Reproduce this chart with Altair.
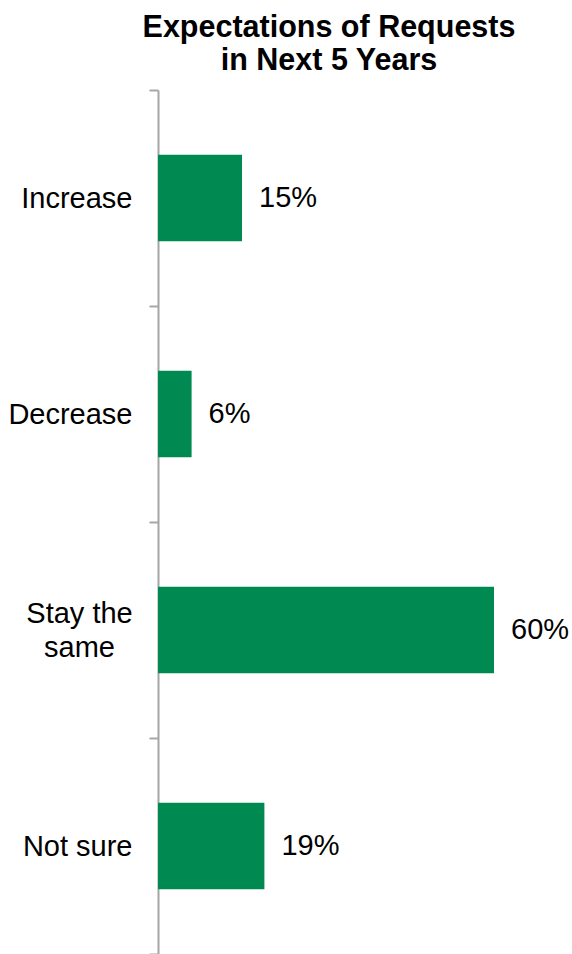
import altair as alt
import pandas as pd

categories = ["Increase", "Decrease", "Stay the same", "Not sure"]
values = [15, 6, 60, 19]
value_labels = ["15%", "6%", "60%", "19%"]

df = pd.DataFrame({"cat": categories, "val": values, "lab": value_labels})

FONT = "Liberation Sans"
GREEN = "#008A52"
MULTI = "datum.value == 'Stay the same'"

y_enc = alt.Y(
    "cat:N",
    sort=categories,
    scale=alt.Scale(paddingInner=0, paddingOuter=0),
    axis=alt.Axis(
        title=None,
        domain=True,
        domainColor="#a6a6a6",
        domainWidth=2,
        ticks=True,
        tickColor="#a6a6a6",
        tickWidth=2,
        tickSize=9,
        tickBand="extent",
        labelFont=FONT,
        labelFontSize=29,
        labelColor="#000000",
        labelPadding={"condition": {"test": MULTI, "value": 70}, "value": 17},
        labelAlign={"condition": {"test": MULTI, "value": "center"}, "value": "right"},
        labelLineHeight=34,
        labelLimit=300,
        labelOffset={"condition": {"test": MULTI, "value": -17}, "value": 0},
        labelExpr="datum.value == 'Stay the same' ? ['Stay the', 'same'] : datum.value",
        grid=False,
    ),
)

x_enc = alt.X(
    "val:Q",
    scale=alt.Scale(domain=[0, 70], nice=False),
    axis=None,
)

bars = alt.Chart(df).mark_bar(
    color=GREEN, height=alt.RelativeBandSize(0.4)
).encode(x=x_enc, y=y_enc)

texts = alt.Chart(df).mark_text(
    align="left", baseline="middle", dx=17, font=FONT, fontSize=29, color="#000000"
).encode(x=x_enc, y=alt.Y("cat:N", sort=categories), text="lab:N")

chart = (
    alt.layer(bars, texts)
    .properties(
        width=392,
        height=864,
        autosize=alt.AutoSizeParams(type="none"),
        padding={"left": 158, "top": 90, "right": 22, "bottom": 0},
        title=alt.TitleParams(
            text=["Expectations of Requests", "in Next 5 Years"],
            font=FONT,
            fontSize=30.5,
            fontWeight="bold",
            color="#000000",
            anchor="middle",
            dx=-25,
            offset=0,
            lineHeight=33,
        ),
    )
    .configure(background="white")
    .configure_view(stroke="transparent", strokeWidth=0)
)

chart.save("out.html", embed_options={"renderer": "svg", "actions": False})
